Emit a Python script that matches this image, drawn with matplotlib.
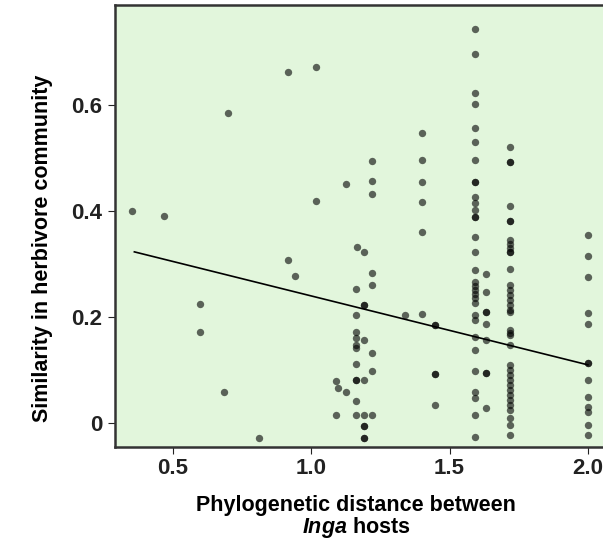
import matplotlib
matplotlib.use("Agg")
import matplotlib.pyplot as plt
import numpy as np

plt.rcParams['font.family'] = ['Liberation Sans', 'DejaVu Sans']
plt.rcParams['mathtext.fontset'] = 'custom'
plt.rcParams['mathtext.it'] = 'Liberation Sans:italic:bold'
plt.rcParams['mathtext.rm'] = 'Liberation Sans:bold'

# scattered points (x, y)
iso_x = [0.352, 0.467, 0.598, 0.598, 0.684, 0.70, 0.81, 0.916, 0.916, 0.94,
         1.017, 1.017, 1.125, 1.09, 1.096, 1.125, 1.09, 1.34, 1.165, 1.19]
iso_y = [0.400, 0.390, 0.225, 0.172, 0.058, 0.585, -0.028, 0.662, 0.307, 0.277,
         0.672, 0.420, 0.451, 0.079, 0.066, 0.058, 0.015, 0.204, 0.332, 0.323]

# columns of points at repeated distances
col_116 = [0.253, 0.204, 0.172, 0.160, 0.147, 0.142, 0.111, 0.081, 0.081, 0.042, 0.015]
col_119 = [0.223, 0.223, 0.157, 0.081, 0.015, -0.006, -0.006, -0.028, -0.028]
col_122 = [0.494, 0.457, 0.432, 0.283, 0.260, 0.132, 0.098, 0.015]
col_140 = [0.547, 0.496, 0.455, 0.417, 0.360, 0.206]
col_145 = [0.185, 0.185, 0.092, 0.092, 0.034]
col_159 = [0.743, 0.696, 0.623, 0.602, 0.557, 0.530, 0.496, 0.455, 0.455, 0.426,
           0.415, 0.402, 0.389, 0.389, 0.351, 0.323, 0.289, 0.266, 0.258, 0.251,
           0.243, 0.236, 0.226, 0.204, 0.194, 0.162, 0.138, 0.098, 0.058, 0.047,
           0.015, -0.026]
col_163 = [0.281, 0.247, 0.209, 0.209, 0.187, 0.157, 0.094, 0.094, 0.028]
col_172 = [0.521, 0.492, 0.492, 0.409, 0.381, 0.381, 0.345, 0.338, 0.330, 0.323,
           0.323, 0.291, 0.260, 0.251, 0.242, 0.232, 0.223, 0.213, 0.209, 0.175,
           0.170, 0.166, 0.147, 0.109, 0.100, 0.091, 0.081, 0.072, 0.062, 0.053,
           0.043, 0.034, 0.025, 0.009, -0.004, -0.023]
col_200 = [0.355, 0.315, 0.275, 0.208, 0.187, 0.113, 0.113, 0.081, 0.049, 0.030,
           0.021, -0.004, -0.023]

columns = {1.16: col_116, 1.19: col_119, 1.22: col_122, 1.40: col_140,
           1.447: col_145, 1.59: col_159, 1.63: col_163, 1.72: col_172, 2.0: col_200}

# fitted regression line
fit_intercept = 0.370
fit_slope = -0.130
fit_range = [0.36, 2.0]

xticks = [0.5, 1.0, 1.5, 2.0]
xticklabels = ["0.5", "1.0", "1.5", "2.0"]
yticks = [0, 0.2, 0.4, 0.6]
yticklabels = ["0", "0.2", "0.4", "0.6"]

xs = list(iso_x)
ys = list(iso_y)
for cx, vals in columns.items():
    xs += [cx] * len(vals)
    ys += vals

fig = plt.figure(figsize=(6.03, 5.49), dpi=100)
ax = fig.add_axes([115/603, 1 - 447/549, 500/603, 442/549])
ax.set_facecolor('#e2f6dc')

ax.scatter(xs, ys, s=28, c='black', alpha=0.6, linewidths=0, zorder=3)
lx = np.array(fit_range)
ax.plot(lx, fit_intercept + fit_slope * lx, color='black', lw=1.2, zorder=4)

ax.set_xlim(0.29, 2.098)
ax.set_ylim(-0.045, 0.789)
ax.set_xticks(xticks)
ax.set_xticklabels(xticklabels)
ax.set_yticks(yticks)
ax.set_yticklabels(yticklabels)
ax.tick_params(direction='out', length=5, width=0.8, colors='#222222',
               labelsize=16)
ax.tick_params(axis='y', pad=4)
ax.tick_params(axis='x', pad=3)
for lab in ax.get_xticklabels() + ax.get_yticklabels():
    lab.set_fontweight('bold')
for s in ['left', 'top', 'bottom', 'right']:
    ax.spines[s].set_linewidth(1.8)
    ax.spines[s].set_color('#333333')

fig.text(43/603, 1 - 248/549, "Similarity in herbivore community", rotation=90,
         ha='center', va='center', fontsize=15.5, fontweight='bold')
fig.text(356/603, 1 - 505/549, "Phylogenetic distance between", ha='center',
         va='center', fontsize=15.5, fontweight='bold')
fig.text(356/603, 1 - 527/549, r"$\it{Inga}$ hosts", ha='center',
         va='center', fontsize=15.5, fontweight='bold')

fig.savefig("out.png", dpi=100)
